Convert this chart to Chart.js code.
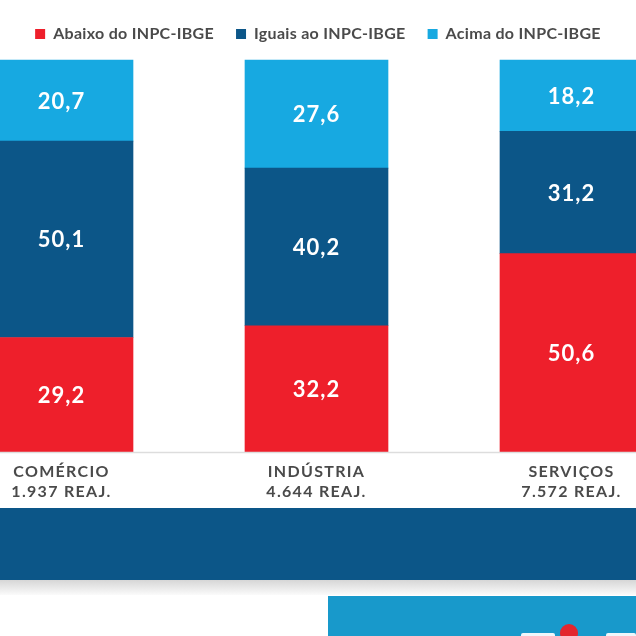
<!DOCTYPE html>
<html>
<head>
<meta charset="utf-8">
<script src="https://cdn.jsdelivr.net/npm/chart.js@4.4.1/dist/chart.umd.min.js"></script>
<style>
  html, body { margin: 0; padding: 0; background: #fff; }
  #wrap { position: relative; width: 636px; height: 636px; overflow: hidden; }
  #chartBox { position: absolute; left: 0; top: 0; width: 636px; height: 508px; }
  #band { position: absolute; left: 0; top: 508px; width: 636px; height: 72px; background: #0c5688; }
  #shadow { position: absolute; left: 0; top: 580px; width: 636px; height: 15px; background: linear-gradient(#d6d6d6, #fbfbfb); }
  #logoBox { position: absolute; left: 328px; top: 596px; width: 308px; height: 40px; background: #1899cb; }
  #dot { position: absolute; left: 560px; top: 624px; width: 18px; height: 18px; border-radius: 50%; background: #e3262d; }
  .mark { position: absolute; top: 633px; height: 6px; background: #eef6fa; border-radius: 2px; }
</style>
</head>
<body>
<div id="wrap">
  <div id="chartBox"><canvas id="reajChart" width="636" height="508"></canvas></div>
  <div id="band"></div>
  <div id="shadow"></div>
  <div id="logoBox"></div>
  <div class="mark" style="left:521px;width:34px"></div>
  <div class="mark" style="left:606px;width:30px"></div>
  <div id="dot"></div>
</div>
<script>
// Data
const sectors = ['COMÉRCIO', 'INDÚSTRIA', 'SERVIÇOS'];
const reajustes = ['1.937', '4.644', '7.572'];
const seriesNames = ['Abaixo do INPC-IBGE', 'Iguais ao INPC-IBGE', 'Acima do INPC-IBGE'];
const abaixo = [29.2, 32.2, 50.6];
const iguais = [50.1, 40.2, 31.2];
const acima = [20.7, 27.6, 18.2];

const colors = ['#ee1f2b', '#0c5688', '#17a9e1'];
const textGrey = '#4a4a4a';

// Sectors sit at x = 0, 1, 2 on a linear axis; the first and last bars run off the page
const toPoints = arr => arr.map((v, i) => ({ x: i, y: v }));

// Letter spacing for canvas text, and a fixed legend height
const legendHeight = {
  id: 'legendHeight',
  beforeInit(chart) {
    const fit = chart.legend.fit;
    chart.legend.fit = function () {
      fit.bind(this)();
      this.height = 56;
    };
  },
  beforeLayout(chart) { chart.ctx.letterSpacing = '0.3px'; },
  beforeDraw(chart) { chart.ctx.letterSpacing = '0.3px'; }
};

// Values inside the bar segments
const valueLabels = {
  id: 'valueLabels',
  afterDatasetsDraw(chart) {
    const ctx = chart.ctx;
    ctx.save();
    ctx.fillStyle = '#fff';
    ctx.font = 'bold 22px Lato';
    ctx.textAlign = 'center';
    ctx.textBaseline = 'middle';
    ctx.letterSpacing = '1px';
    chart.data.datasets.forEach((ds, i) => {
      chart.getDatasetMeta(i).data.forEach((bar, j) => {
        const p = bar.getCenterPoint();
        ctx.fillText(ds.data[j].y.toFixed(1).replace('.', ','), p.x, p.y + 1);
      });
    });
    ctx.restore();
  }
};

// Baseline across the whole width and two-line sector labels
const sectorLabels = {
  id: 'sectorLabels',
  afterDraw(chart) {
    const ctx = chart.ctx;
    const x = chart.scales.x;
    const bottom = chart.chartArea.bottom;
    ctx.save();
    ctx.strokeStyle = '#dddddd';
    ctx.lineWidth = 1.5;
    ctx.beginPath();
    ctx.moveTo(0, bottom + 0.5);
    ctx.lineTo(chart.width, bottom + 0.5);
    ctx.stroke();

    ctx.fillStyle = textGrey;
    ctx.font = 'bold 16px Lato';
    ctx.textAlign = 'center';
    ctx.textBaseline = 'middle';
    ctx.letterSpacing = '1.3px';
    sectors.forEach((s, i) => {
      const px = x.getPixelForValue(i);
      ctx.fillText(s, px, bottom + 20);
      ctx.fillText(reajustes[i] + ' REAJ.', px, bottom + 40);
    });
    ctx.restore();
  }
};

const ctx = document.getElementById('reajChart').getContext('2d');
new Chart(ctx, {
  type: 'bar',
  data: {
    datasets: [
      { label: seriesNames[0], data: toPoints(abaixo), backgroundColor: colors[0] },
      { label: seriesNames[1], data: toPoints(iguais), backgroundColor: colors[1] },
      { label: seriesNames[2], data: toPoints(acima), backgroundColor: colors[2] }
    ]
  },
  options: {
    responsive: false,
    animation: false,
    layout: { padding: { left: 0, right: 0, top: 4, bottom: 56 } },
    datasets: { bar: { barThickness: 143, borderWidth: 0, clip: false } },
    scales: {
      x: { type: 'linear', stacked: true, offset: false, min: -61.5 / 255, max: 2 + 64.5 / 255, display: false },
      y: { stacked: true, min: 0, max: 100, display: false }
    },
    plugins: {
      legend: {
        display: true,
        position: 'top',
        labels: {
          boxWidth: 10,
          boxHeight: 10,
          padding: 22,
          color: textGrey,
          font: { family: 'Lato', size: 16, weight: 'bold' }
        }
      },
      tooltip: { enabled: false }
    }
  },
  plugins: [legendHeight, valueLabels, sectorLabels]
});
</script>
</body>
</html>
